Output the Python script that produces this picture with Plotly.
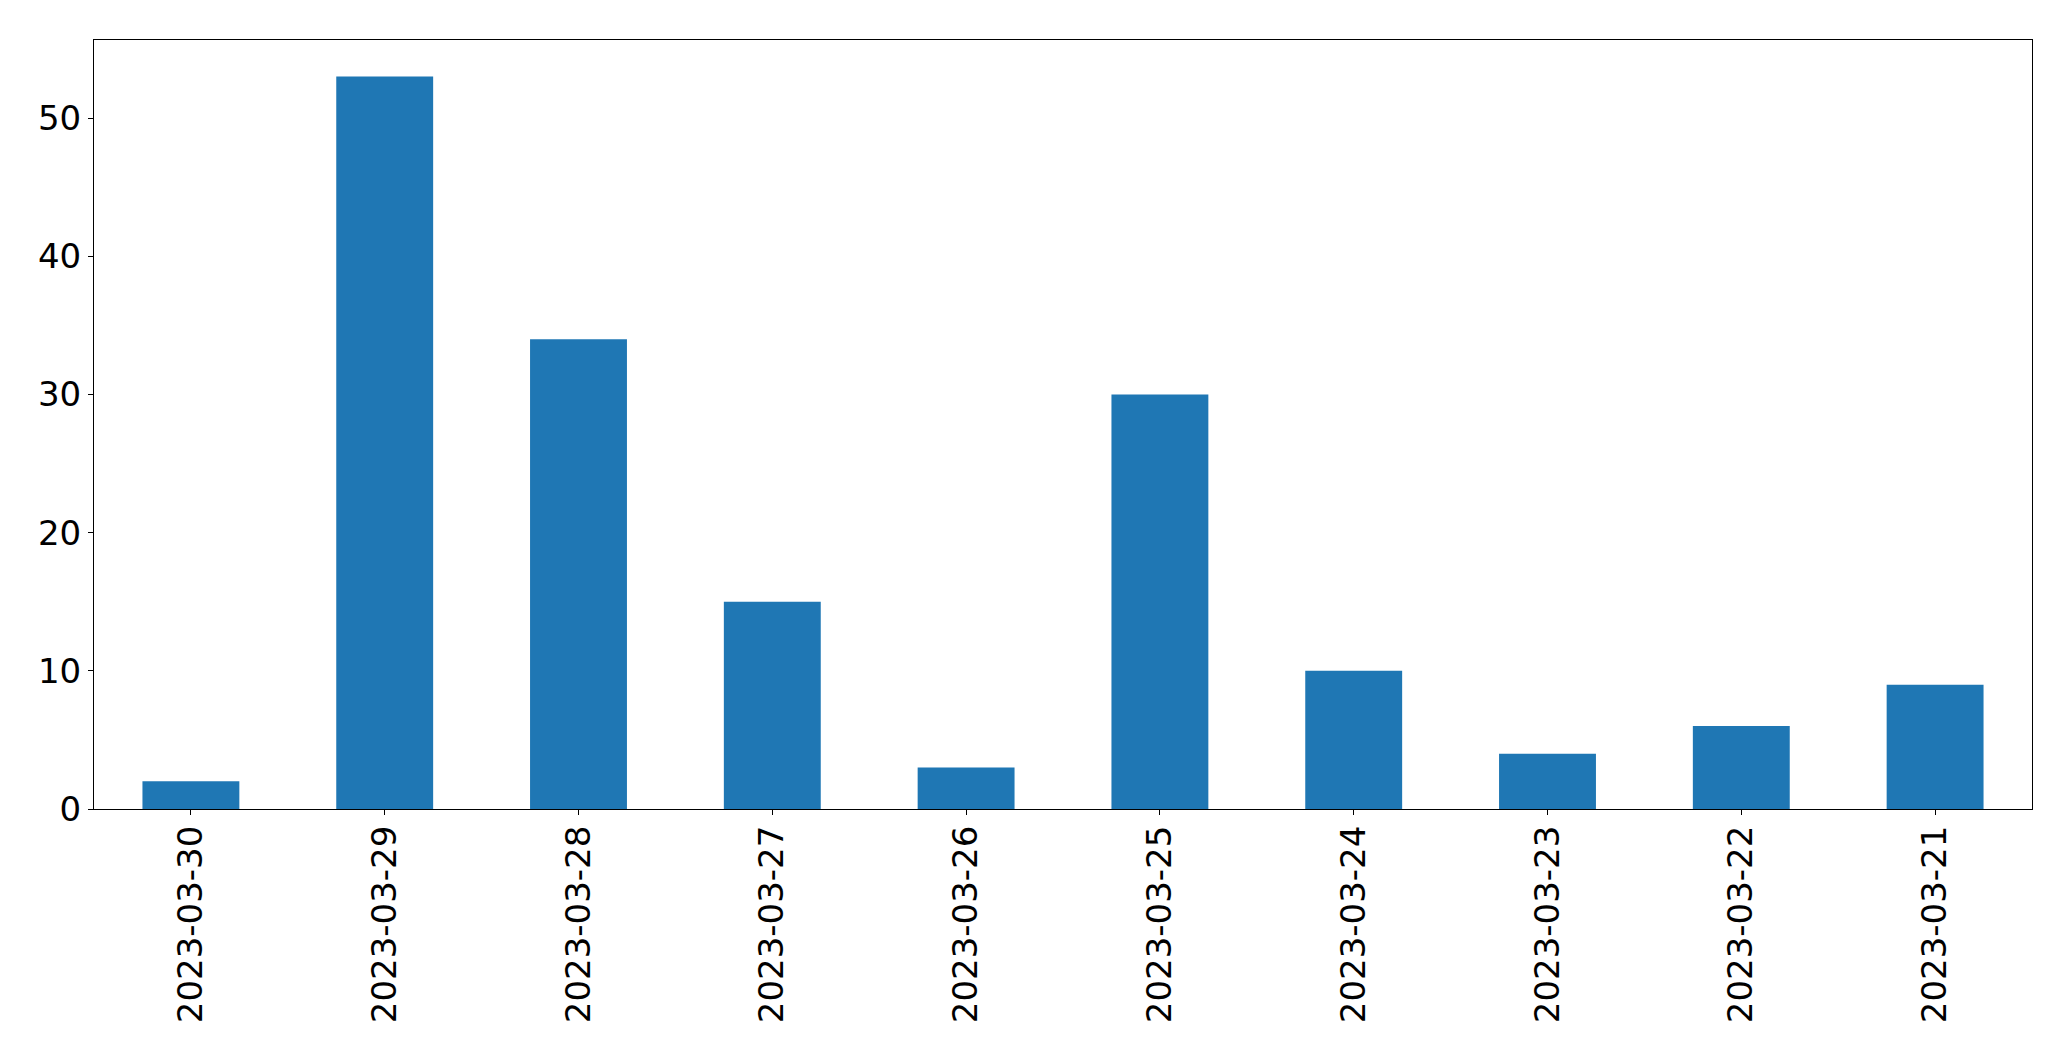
import plotly.graph_objects as go

dates = ["2023-03-30", "2023-03-29", "2023-03-28", "2023-03-27", "2023-03-26",
         "2023-03-25", "2023-03-24", "2023-03-23", "2023-03-22", "2023-03-21"]
counts = [2, 53, 34, 15, 3, 30, 10, 4, 6, 9]
y_ticks = [0, 10, 20, 30, 40, 50]

fig = go.Figure(go.Bar(x=dates, y=counts, marker=dict(color="#1f77b4", line=dict(width=0)), width=0.5))

fig.update_layout(
    width=2063, height=1053,
    margin=dict(l=86, r=39, t=32, b=252),
    paper_bgcolor="white", plot_bgcolor="white",
    font=dict(family="DejaVu Sans", size=34, color="black"),
    showlegend=False,
)
fig.update_xaxes(
    type="category", range=[-0.5, 9.5], tickangle=-90,
    showline=True, linecolor="black", linewidth=1.1, mirror=True,
    ticks="outside", ticklen=5, tickwidth=1.1, tickcolor="black",
    ticklabelstandoff=-3,
    showgrid=False, zeroline=False,
)
fig.update_yaxes(
    range=[0, 55.65], tickvals=y_ticks,
    showline=True, linecolor="black", linewidth=1.1, mirror=True,
    ticks="outside", ticklen=5, tickwidth=1.1, tickcolor="black",
    showgrid=False, zeroline=False,
)
fig.write_html("out.html")
